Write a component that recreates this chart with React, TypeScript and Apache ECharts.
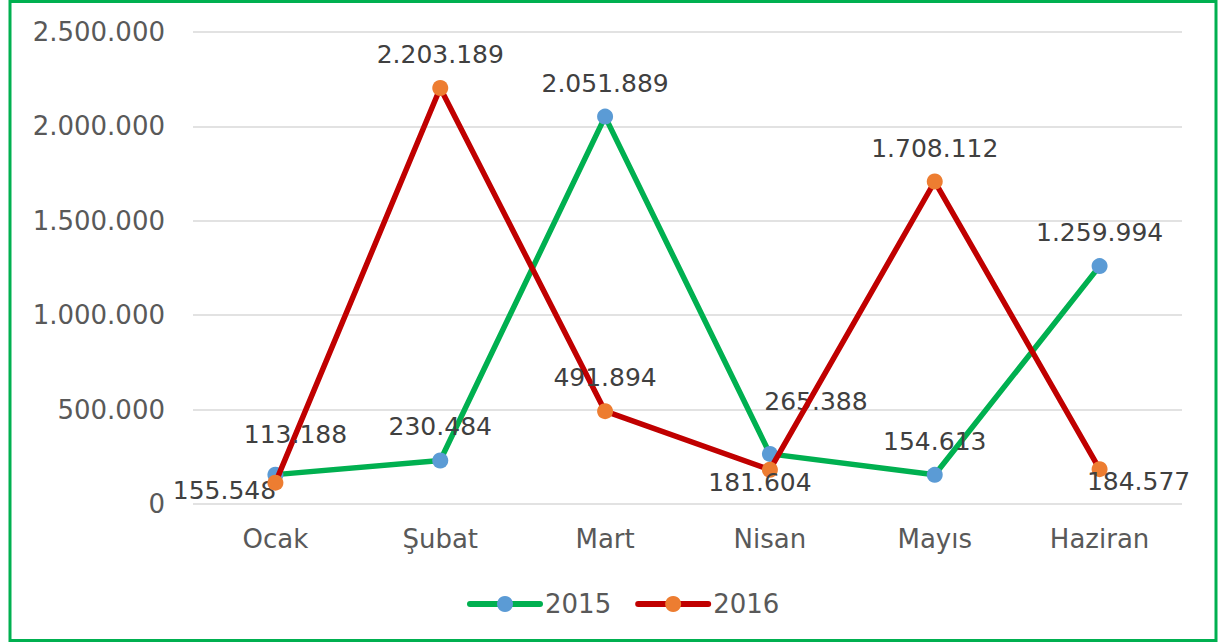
import React, { useEffect, useRef } from "react";
import * as echarts from "echarts";

const categories = ["Ocak", "Şubat", "Mart", "Nisan", "Mayıs", "Haziran"];
const values2015 = [155548, 230484, 2051889, 265388, 154613, 1259994];
const values2016 = [113188, 2203189, 491894, 181604, 1708112, 184577];
const yTicks = { min: 0, max: 2500000, interval: 500000 };

const offsets2015: (number[] | null)[] = [[-51, 49], null, null, [46, -19], null, null];
const offsets2016: (number[] | null)[] = [[20, -15], null, null, [-10, 46], null, [39, 46]];

const fmt = (v: number) => {
  const s = Math.round(v).toString();
  return s.replace(/\B(?=(\d{3})+(?!\d))/g, ".");
};

const FONT = "DejaVu Sans";

function buildData(values: number[], offs: (number[] | null)[]) {
  return values.map((v, i) => {
    const o = offs[i];
    return o ? { value: v, label: { offset: o } } : { value: v };
  });
}

export default function App() {
  const ref = useRef<HTMLDivElement>(null);
  useEffect(() => {
    if (!ref.current) return;
    const chart = echarts.init(ref.current, null, { renderer: "svg" });
    const labelCfg = {
      show: true,
      position: "top",
      distance: 13,
      color: "#404040",
      fontSize: 25,
      fontFamily: FONT,
      formatter: (p: any) => fmt(p.value),
    };
    chart.setOption({
      animation: false,
      backgroundColor: "#ffffff",
      graphic: [
        {
          type: "rect",
          shape: { x: 10, y: 1.5, width: 1206, height: 639 },
          style: { fill: "none", stroke: "#00B050", lineWidth: 3 },
          silent: true,
        },
      ],
      grid: { left: 193, right: 37, top: 32, bottom: 139 },
      legend: {
        left: 462,
        top: 586,
        itemWidth: 70,
        itemHeight: 20,
        itemGap: 24,
        textStyle: { color: "#595959", fontSize: 26, fontFamily: FONT },
        data: [
          { name: "2015", lineStyle: { width: 6, cap: "round" } },
          { name: "2016", lineStyle: { width: 6, cap: "round" } },
        ],
      },
      xAxis: {
        type: "category",
        data: categories,
        boundaryGap: true,
        axisLine: { show: false },
        axisTick: { show: false },
        axisLabel: { color: "#595959", fontSize: 26, fontFamily: FONT, margin: 22 },
      },
      yAxis: {
        type: "value",
        min: yTicks.min,
        max: yTicks.max,
        interval: yTicks.interval,
        axisLine: { show: false },
        axisTick: { show: false },
        splitLine: { lineStyle: { color: "#d9d9d9", width: 1.5 } },
        axisLabel: {
          color: "#595959",
          fontSize: 26,
          fontFamily: FONT,
          margin: 28,
          formatter: (v: number) => fmt(v),
        },
      },
      series: [
        {
          name: "2015",
          type: "line",
          data: buildData(values2015, offsets2015),
          symbol: "circle",
          symbolSize: 16,
          lineStyle: { color: "#00B050", width: 5.5 },
          itemStyle: { color: "#5B9BD5" },
          label: labelCfg,
          z: 2,
        },
        {
          name: "2016",
          type: "line",
          data: buildData(values2016, offsets2016),
          symbol: "circle",
          symbolSize: 16,
          lineStyle: { color: "#C00000", width: 5.5 },
          itemStyle: { color: "#ED7D31" },
          label: labelCfg,
          z: 3,
        },
      ],
    });
    return () => chart.dispose();
  }, []);
  return (
    <div
      ref={ref}
      style={{ position: "fixed", left: 0, top: 0, width: 1219, height: 643 }}
    />
  );
}
